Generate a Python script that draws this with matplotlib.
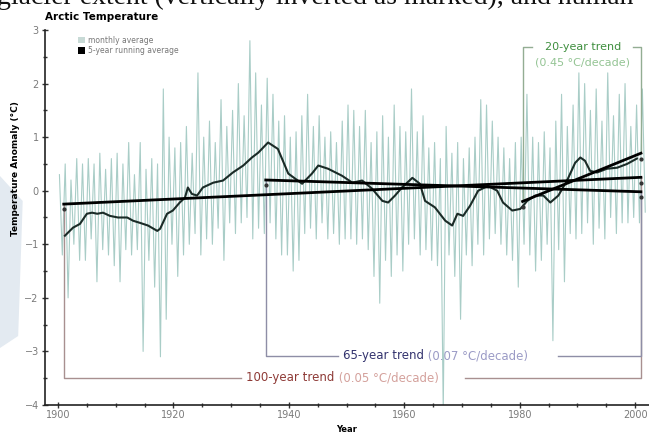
import numpy as np
import matplotlib.pyplot as plt
from matplotlib.patches import Patch, Polygon

# yearly high / low of the monthly anomalies (deg C), 1900-2001
years = np.arange(1900, 2002)
monthly_hi = [0.3, 0.5, 0.2, 0.6, 0.5, 0.6, 0.5, 0.7, 0.4, 0.6,
              0.7, 0.5, 0.9, 0.3, 0.9, 0.4, 0.6, 0.5, 1.9, 1.0,
              0.8, 0.9, 1.2, 0.7, 2.2, 1.0, 1.3, 0.9, 1.7, 1.2,
              1.5, 2.0, 1.4, 2.8, 2.2, 1.6, 2.1, 1.8, 1.3, 1.4,
              1.0, 1.1, 1.4, 1.8, 1.2, 1.4, 1.0, 1.1, 0.9, 1.3,
              1.6, 1.5, 1.2, 1.5, 0.9, 1.1, 1.4, 1.0, 1.6, 1.2,
              1.1, 1.9, 1.1, 1.4, 0.8, 0.9, 0.6, 1.2, 0.7, 0.9,
              0.6, 0.8, 1.0, 1.7, 1.6, 1.3, 1.0, 0.8, 0.6, 0.9,
              1.0, 1.8, 1.0, 0.9, 1.1, 0.8, 1.3, 1.8, 1.2, 1.6,
              2.2, 2.0, 1.5, 1.9, 1.3, 2.2, 1.4, 1.8, 2.0, 1.2,
              1.6, 1.9]
monthly_lo = [-1.2, -2.0, -1.0, -1.3, -1.3, -0.9, -1.7, -1.1, -1.2, -1.4,
              -1.7, -1.1, -1.2, -1.1, -3.0, -1.3, -1.8, -3.1, -2.4, -1.0,
              -1.6, -1.2, -1.0, -0.8, -1.2, -0.9, -1.0, -0.7, -1.3, -0.6,
              -0.8, -0.6, -0.5, -0.9, -0.7, -0.8, -0.6, -0.9, -1.2, -1.2,
              -1.5, -1.3, -0.8, -0.7, -0.9, -0.6, -0.9, -0.8, -1.0, -0.9,
              -0.9, -1.0, -0.9, -1.1, -1.6, -2.1, -1.3, -1.6, -1.2, -1.5,
              -1.0, -0.9, -1.2, -1.1, -1.3, -1.4, -4.1, -1.2, -1.6, -2.4,
              -1.2, -1.4, -1.0, -1.2, -0.9, -0.8, -1.0, -1.2, -1.3, -1.8,
              -1.0, -1.2, -1.5, -1.3, -1.0, -2.8, -1.1, -1.7, -0.8, -0.9,
              -0.8, -0.6, -1.0, -0.7, -0.9, -0.5, -0.8, -0.6, -0.6, -0.5,
              -0.6, -0.4]

# 5-year running average
run_years = [1901.2, 1902.6, 1903.8, 1905.0, 1905.9, 1906.8, 1907.8, 1909.0,
             1910.4, 1912.0, 1913.0, 1914.2, 1915.6, 1917.2, 1917.7, 1918.9,
             1919.9, 1921.1, 1922.0, 1922.5, 1923.2, 1924.1, 1925.1, 1926.9,
             1928.6, 1930.3, 1932.1, 1933.6, 1934.7, 1936.4, 1938.1, 1939.9,
             1942.3, 1944.0, 1945.1, 1946.8, 1949.2, 1951.0, 1952.7, 1954.4,
             1956.2, 1957.2, 1958.4, 1959.6, 1961.4, 1962.7, 1963.6, 1965.3,
             1967.1, 1968.3, 1969.2, 1970.2, 1971.4, 1972.8, 1974.5, 1976.1,
             1977.1, 1978.7, 1980.1, 1981.3, 1982.7, 1984.1, 1985.3, 1986.7,
             1988.2, 1989.6, 1990.5, 1991.3, 1992.2, 1993.4, 1995.1, 1996.9,
             1998.6, 2000.3]
run_vals = [-0.84, -0.69, -0.62, -0.43, -0.41, -0.43, -0.41, -0.47,
            -0.50, -0.50, -0.56, -0.60, -0.65, -0.75, -0.71, -0.43,
            -0.37, -0.22, -0.13, 0.06, -0.06, -0.09, 0.06, 0.15,
            0.19, 0.34, 0.47, 0.62, 0.71, 0.90, 0.78, 0.32,
            0.13, 0.32, 0.47, 0.41, 0.28, 0.15, 0.19, 0.04,
            -0.19, -0.22, -0.09, 0.06, 0.24, 0.13, -0.19, -0.31,
            -0.56, -0.65, -0.43, -0.47, -0.28, 0.00, 0.09, 0.00,
            -0.22, -0.37, -0.34, -0.19, -0.09, -0.09, -0.22, -0.09,
            0.19, 0.52, 0.62, 0.56, 0.37, 0.34, 0.41, 0.43,
            0.50, 0.60]

# linear trends: (start year, end year, start value, end value)
trend_100 = (1901, 2001, -0.25, 0.25)
trend_65 = (1936, 2001, 0.20, -0.02)
trend_20 = (1980.5, 2001, -0.20, 0.70)

# interleave the highs and lows so the monthly series reads as spikes
mx = np.column_stack([years + 0.25, years + 0.75]).ravel()
my = np.column_stack([monthly_hi, monthly_lo]).ravel()

fig = plt.figure(figsize=(6.49, 4.36), dpi=100)
ax = fig.add_axes([45 / 649, 31 / 436, 604 / 649, 375 / 436])

# faint page decoration on the left edge and the clipped caption above
fig.patches.append(Polygon([(0, 260 / 436), (0.035, 235 / 436), (0.028, 100 / 436), (0, 88 / 436)],
                           closed=True, transform=fig.transFigure, facecolor='#e3eaf1',
                           edgecolor='none', zorder=-5))
fig.text(-0.004, 0.991, 'glacier extent (vertically inverted as marked), and human',
         family='Liberation Serif', fontsize=20, va='baseline', ha='left', color='#111111')

ax.plot(mx, my, color='#a9cdc7', lw=0.8, zorder=2)
ax.plot(run_years, run_vals, color='#1b2b27', lw=1.5, zorder=4)

for t in (trend_100, trend_65, trend_20):
    ax.plot([t[0], t[1]], [t[2], t[3]], color='black', lw=2, zorder=5)
    ax.plot([t[0], t[1]], [t[2] - 0.1, t[3] - 0.1], 'o', color='#333333', ms=2, zorder=5)


def bracket_label(x, y, name, rate, dark, light):
    t1 = ax.text(x, y, name, color=dark, fontsize=8.5, va='center', ha='left')
    ax.annotate(' ' + rate, xy=(1, 0.5), xycoords=t1, color=light, fontsize=8.5,
                va='center', ha='left')


# 100-year bracket
c100 = '#a89090'
y100 = -3.49
ax.plot([trend_100[0], trend_100[0], 1931.7], [trend_100[2], y100, y100], color=c100, lw=1, zorder=3)
ax.plot([1970.5, trend_100[1], trend_100[1]], [y100, y100, trend_100[3]], color=c100, lw=1, zorder=3)
bracket_label(1932.6, y100, '100-year trend', '(0.05 \u00b0C/decade)', '#8e3a36', '#d4a19c')

# 65-year bracket
c65 = '#8e8ea6'
y65 = -3.08
ax.plot([trend_65[0], trend_65[0], 1948.5], [trend_65[2], y65, y65], color=c65, lw=1, zorder=3)
ax.plot([1986.7, trend_65[1], trend_65[1]], [y65, y65, trend_65[3]], color=c65, lw=1, zorder=3)
bracket_label(1949.4, y65, '65-year trend', '(0.07 \u00b0C/decade)', '#33336e', '#9b9bc6')

# 20-year bracket
c20 = '#93ad93'
y20 = 2.69
ax.plot([trend_20[0], trend_20[0], 1982.2], [trend_20[2], y20, y20], color=c20, lw=1, zorder=3)
ax.plot([1999.6, trend_20[1], trend_20[1]], [y20, y20, trend_20[3]], color=c20, lw=1, zorder=3)
ax.text(1990.9, y20, '20-year trend', color='#3f8f3f', fontsize=8, va='center', ha='center')
ax.text(1990.9, 2.39, '(0.45 \u00b0C/decade)', color='#94c494', fontsize=8, va='center', ha='center')

ax.set_xlim(1897.75, 2002.4)
ax.set_ylim(-4, 3)
ax.set_xticks(np.arange(1900, 2001, 20))
ax.set_xticks(np.arange(1900, 2002, 5), minor=True)
ax.set_yticks(np.arange(-4, 4, 1))
ax.set_yticks(np.arange(-4, 3.01, 0.5), minor=True)
ax.tick_params(axis='both', which='both', direction='inout', colors='#333333',
               labelcolor='#7a7a7a', labelsize=7)
ax.tick_params(axis='both', which='major', length=5, width=1)
ax.tick_params(axis='both', which='minor', length=3, width=1)
ax.tick_params(axis='y', pad=2)
ax.tick_params(axis='x', pad=1)

for s in ('top', 'right'):
    ax.spines[s].set_visible(False)
for s in ('left', 'bottom'):
    ax.spines[s].set_linewidth(1.2)
    ax.spines[s].set_color('#222222')

ax.set_xlabel('Year', fontsize=6, fontweight='bold', labelpad=4)
ax.set_ylabel('Temperature Anomaly (\u00b0C)', fontsize=6.5, fontweight='bold')
ax.yaxis.set_label_coords(-0.042, 0.63)

fig.text(45 / 649, 1 - 17 / 436, 'Arctic Temperature', fontsize=7.5, fontweight='bold',
         va='center', ha='left')

handles = [Patch(facecolor='#c8dad6', edgecolor='none', label='monthly average'),
           Patch(facecolor='black', edgecolor='none', label='5-year running average')]
ax.legend(handles=handles, loc='upper left', bbox_to_anchor=(0.055, 0.985), frameon=False,
          fontsize=5.5, labelcolor='#777777', handlelength=0.9, handleheight=0.9,
          handletextpad=0.4, borderpad=0, borderaxespad=0, labelspacing=0.2)

fig.savefig('out.png', dpi=100)
